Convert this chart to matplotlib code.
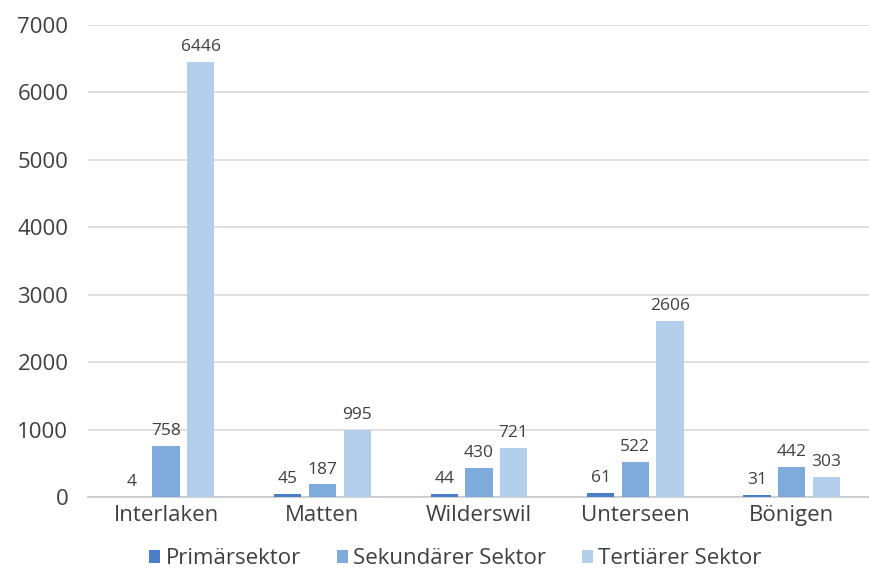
import numpy as np
import matplotlib.pyplot as plt

gemeinden = ['Interlaken', 'Matten', 'Wilderswil', 'Unterseen', 'Bönigen']
primaer = [4, 45, 44, 61, 31]
sekundaer = [758, 187, 430, 522, 442]
tertiaer = [6446, 995, 721, 2606, 303]
series = ['Primärsektor', 'Sekundärer Sektor', 'Tertiärer Sektor']
colors = ['#4a7ec8', '#7eaadc', '#b4cfeb']

plt.rcParams['font.family'] = ['Open Sans', 'DejaVu Sans']
text_col = '#404040'

fig = plt.figure(figsize=(8.7, 5.72), dpi=100)
ax = fig.add_axes([0.101, 0.131, 0.899, 0.826])

x = np.arange(len(gemeinden))
w = 0.175
step = 0.222
for i, (vals, name) in enumerate(zip([primaer, sekundaer, tertiaer], series)):
    bars = ax.bar(x + (i - 1) * step, vals, w, color=colors[i], label=name, zorder=3)
    ax.bar_label(bars, padding=5, fontsize=12.5, color=text_col)

ax.set_ylim(0, 7000)
ax.set_xlim(-0.5, len(gemeinden) - 0.5)
ax.set_yticks(range(0, 7001, 1000))
ax.set_xticks(x)
ax.set_xticklabels(gemeinden)
ax.yaxis.grid(True, color='#d9d9d9', linewidth=1.2, zorder=0)
ax.tick_params(axis='both', length=0, labelsize=16, labelcolor=text_col)
ax.tick_params(axis='y', pad=14)
ax.tick_params(axis='x', pad=6)
for s in ['top', 'right', 'left']:
    ax.spines[s].set_visible(False)
ax.spines['bottom'].set_color('#c8c8c8')
ax.spines['bottom'].set_linewidth(1.2)

leg = ax.legend(loc='upper center', bbox_to_anchor=(0.47, -0.09), ncol=3, frameon=False,
                fontsize=16, handlelength=0.5, handleheight=0.5, handletextpad=0.25,
                columnspacing=1.6, labelcolor=text_col, borderaxespad=0)

fig.savefig('out.png', dpi=100)
